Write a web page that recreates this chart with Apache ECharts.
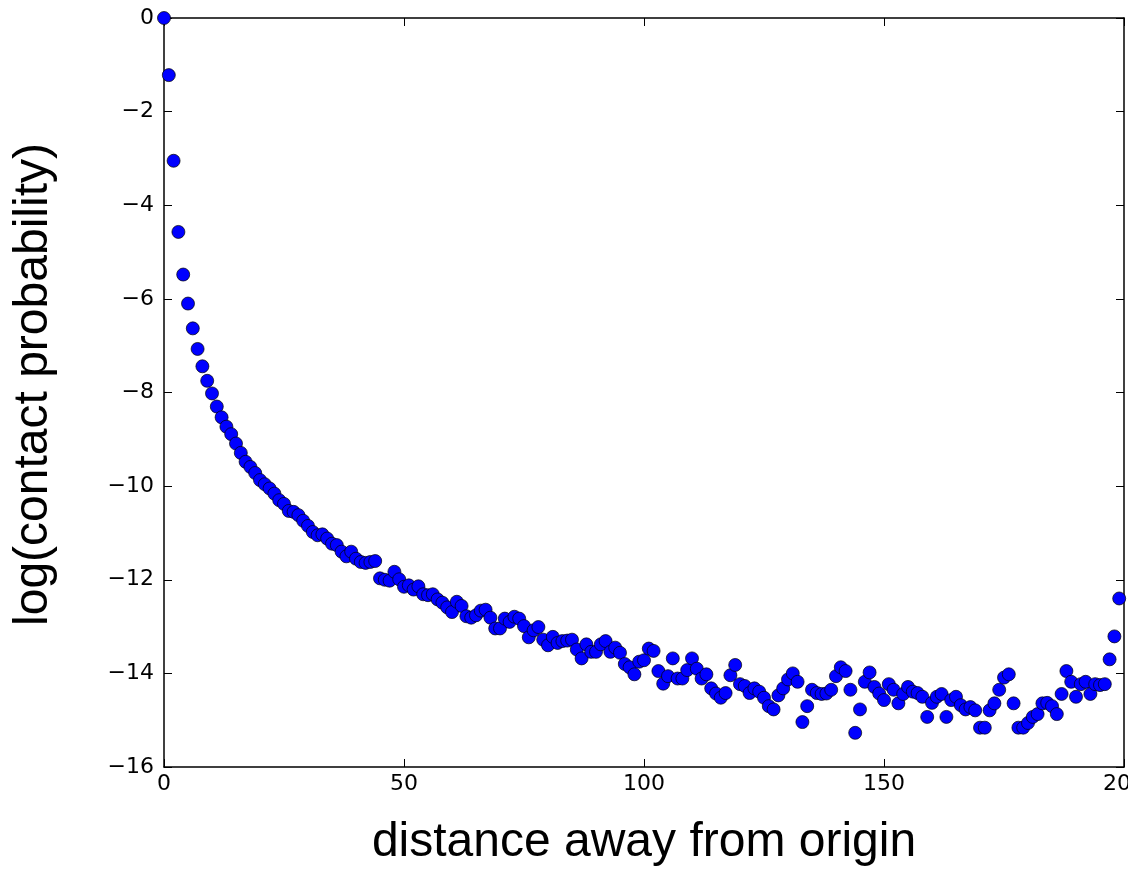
<!DOCTYPE html>
<html>
<head>
  <meta charset="utf-8" />
  <title>log(contact probability) vs distance</title>
  <script src="https://cdn.jsdelivr.net/npm/echarts/dist/echarts.min.js"></script>
  <style>
    html, body { margin: 0; padding: 0; background: #fff; }
    #chart { width: 1128px; height: 870px; }
  </style>
</head>
<body>
  <div id="chart"></div>
  <script>
    // log contact probability, one value per distance 0..199
    const logProb = [
      0, -1.22, -3.05, -4.57, -5.48, -6.1, -6.63, -7.07, -7.44, -7.75,
      -8.02, -8.30, -8.53, -8.73, -8.89, -9.09, -9.29, -9.48, -9.59, -9.72,
      -9.87, -9.96, -10.05, -10.16, -10.30, -10.38, -10.53, -10.55, -10.62, -10.74,
      -10.85, -10.98, -11.05, -11.03, -11.12, -11.23, -11.26, -11.40, -11.50, -11.40,
      -11.55, -11.62, -11.64, -11.62, -11.60, -11.97, -12.00, -12.02, -11.83, -11.99,
      -12.15, -12.12, -12.21, -12.14, -12.31, -12.33, -12.31, -12.42, -12.49, -12.59,
      -12.69, -12.47, -12.56, -12.78, -12.81, -12.76, -12.66, -12.64, -12.81, -13.04,
      -13.04, -12.83, -12.90, -12.79, -12.83, -12.99, -13.23, -13.08, -13.01, -13.28,
      -13.40, -13.22, -13.35, -13.31, -13.30, -13.28, -13.49, -13.68, -13.38, -13.54,
      -13.54, -13.38, -13.31, -13.54, -13.45, -13.56, -13.80, -13.87, -14.02, -13.75,
      -13.72, -13.47, -13.52, -13.95, -14.22, -14.06, -13.68, -14.11, -14.11, -13.93,
      -13.68, -13.90, -14.11, -14.02, -14.32, -14.43, -14.52, -14.42, -14.04, -13.82,
      -14.23, -14.27, -14.42, -14.32, -14.39, -14.52, -14.70, -14.77, -14.47, -14.32,
      -14.13, -14.00, -14.18, -15.04, -14.70, -14.35, -14.42, -14.44, -14.43, -14.35,
      -14.06, -13.87, -13.95, -14.35, -15.27, -14.77, -14.18, -13.98, -14.29, -14.43,
      -14.57, -14.23, -14.35, -14.64, -14.44, -14.29, -14.39, -14.42, -14.50, -14.93,
      -14.63, -14.50, -14.44, -14.93, -14.57, -14.50, -14.68, -14.77, -14.72, -14.79,
      -15.16, -15.16, -14.79, -14.64, -14.35, -14.09, -14.02, -14.64, -15.16, -15.16,
      -15.06, -14.93, -14.87, -14.64, -14.63, -14.70, -14.87, -14.44, -13.95, -14.18,
      -14.50, -14.23, -14.18, -14.44, -14.23, -14.25, -14.23, -13.70, -13.21, -12.40
    ];
    const distance = logProb.map((v, i) => i);

    const xTitle = 'distance away from origin';
    const yTitle = 'log(contact probability)';

    const points = distance.map((d, i) => [d, logProb[i]]);

    // matplotlib uses a real minus sign
    function fmt(v) {
      return v < 0 ? '\u2212' + Math.abs(v) : String(v);
    }

    const tickFont = { fontFamily: 'DejaVu Sans', fontSize: 22, color: '#000' };
    const titleFont = { fontFamily: 'Liberation Sans', fontSize: 48, color: '#000' };
    const frameLine = { show: true, onZero: false, lineStyle: { color: '#000', width: 1.5 } };
    const innerTick = { show: true, inside: true, length: 8, lineStyle: { color: '#000', width: 1 } };

    const chart = echarts.init(document.getElementById('chart'));
    chart.setOption({
      backgroundColor: '#fff',
      animation: false,
      grid: { left: 164, right: 4, top: 18, bottom: 103, containLabel: false, outerBoundsMode: 'none' },
      xAxis: [
        {
          type: 'value', min: 0, max: 200, interval: 50,
          axisLine: frameLine, axisTick: innerTick, splitLine: { show: false },
          axisLabel: Object.assign({ margin: 6, formatter: fmt }, tickFont),
          name: xTitle, nameLocation: 'middle', nameGap: 52,
          nameTextStyle: titleFont
        },
        {
          type: 'value', position: 'top', min: 0, max: 200, interval: 50,
          axisLine: frameLine, axisTick: innerTick, splitLine: { show: false },
          axisLabel: { show: false }
        }
      ],
      yAxis: [
        {
          type: 'value', min: -16, max: 0, interval: 2,
          axisLine: frameLine, axisTick: innerTick, splitLine: { show: false },
          axisLabel: Object.assign({ margin: 10, formatter: fmt }, tickFont),
          name: yTitle, nameLocation: 'middle', nameGap: 106,
          nameTextStyle: Object.assign({ padding: [0, 0, 0, 16] }, titleFont)
        },
        {
          type: 'value', position: 'right', min: -16, max: 0, interval: 2,
          axisLine: frameLine, axisTick: innerTick, splitLine: { show: false },
          axisLabel: { show: false }
        }
      ],
      series: [
        {
          type: 'scatter',
          data: points,
          symbol: 'circle',
          symbolSize: 13,
          itemStyle: { color: '#0000ff', borderColor: '#000', borderWidth: 0.7, opacity: 1 }
        }
      ]
    });
  </script>
</body>
</html>
